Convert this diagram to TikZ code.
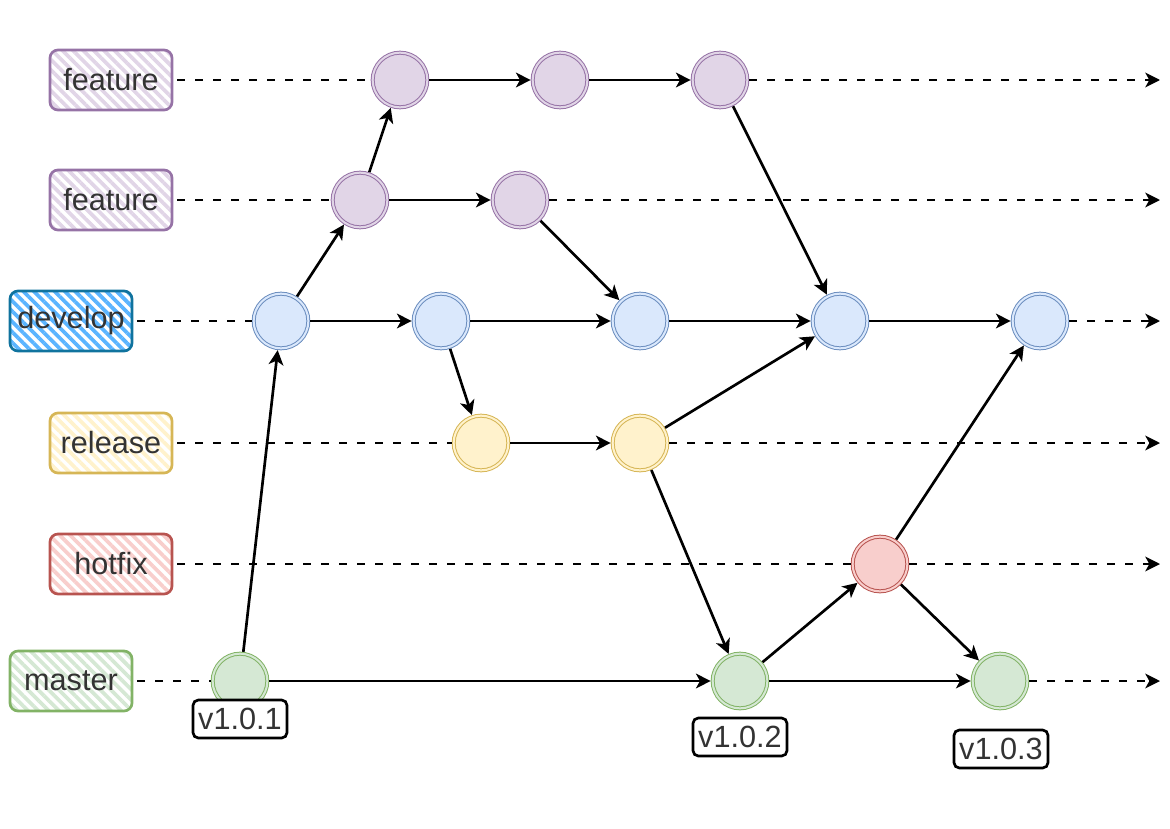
\documentclass[tikz,border=0pt]{standalone}
\usepackage{fontspec}
\setmainfont{Liberation Sans}
\usetikzlibrary{arrows.meta,patterns.meta}

% branch palette: fill / stroke
\definecolor{purpF}{HTML}{E1D5E7}\definecolor{purpS}{HTML}{9673A6}
\definecolor{blueF}{HTML}{DAE8FC}\definecolor{blueS}{HTML}{6C8EBF}
\definecolor{devH}{HTML}{5AB4FF}\definecolor{devS}{HTML}{10739E}
\definecolor{yelF}{HTML}{FFF2CC}\definecolor{yelS}{HTML}{D6B656}
\definecolor{redF}{HTML}{F8CECC}\definecolor{redS}{HTML}{B85450}
\definecolor{grnF}{HTML}{D5E8D4}\definecolor{grnS}{HTML}{82B366}
\definecolor{txt}{HTML}{333333}

\begin{document}
\begin{tikzpicture}[x=0.75pt,y=-0.75pt,
  bigfont/.style={font=\fontsize{23}{27}\selectfont},
  branch/.style={bigfont, text=txt, rounded corners=6pt, minimum width=91.5pt,
    minimum height=45pt, inner sep=0pt, line width=2pt, outer sep=4pt,
    draw=#1},
  hatch/.style={pattern={Lines[angle=-45,distance=5.5pt,line width=2.8pt]},
    pattern color=#1},
  commit/.style 2 args={circle, minimum size=41pt, inner sep=0pt,
    line width=0.75pt, double distance=1.5pt, outer sep=1.5pt,
    draw=#2, double=#1, fill=#1},
  tag/.style={bigfont, text=txt, draw=black, fill=white, rounded corners=4pt,
    minimum width=70.5pt, minimum height=28.5pt, inner sep=0pt, line width=2pt},
  flow/.style={line width=2pt, -{Stealth[length=11pt,width=11pt,inset=3pt]}},
  track/.style={line width=2pt, dash pattern=on 6pt off 7.5pt},
  trackend/.style={track, -{Stealth[length=11pt,width=11pt,inset=3pt]}}
]
\useasboundingbox (0,0) rectangle (1170,828);

% branch labels
\node[branch=purpS, hatch=purpF] (lfa) at (111,80)  {feature};
\node[branch=purpS, hatch=purpF] (lfb) at (111,200) {feature};
\node[branch=devS,  hatch=devH]  (ldv) at (71,321)  {develop};
\node[branch=yelS,  hatch=yelF]  (lrl) at (111,443) {release};
\node[branch=redS,  hatch=redF]  (lhf) at (111,564) {hotfix};
\node[branch=grnS,  hatch=grnF]  (lms) at (71,681)  {master};

% commits
\node[commit={purpF}{purpS}] (fa1) at (400,80) {};
\node[commit={purpF}{purpS}] (fa2) at (560,80) {};
\node[commit={purpF}{purpS}] (fa3) at (720,80) {};
\node[commit={purpF}{purpS}] (fb1) at (360,200) {};
\node[commit={purpF}{purpS}] (fb2) at (520,200) {};
\node[commit={blueF}{blueS}] (dv1) at (281,321) {};
\node[commit={blueF}{blueS}] (dv2) at (441,321) {};
\node[commit={blueF}{blueS}] (dv3) at (640,321) {};
\node[commit={blueF}{blueS}] (dv4) at (840,321) {};
\node[commit={blueF}{blueS}] (dv5) at (1040,321) {};
\node[commit={yelF}{yelS}]   (rl1) at (481,443) {};
\node[commit={yelF}{yelS}]   (rl2) at (640,443) {};
\node[commit={redF}{redS}]   (hf1) at (880,564) {};
\node[commit={grnF}{grnS}]   (ms1) at (240,681) {};
\node[commit={grnF}{grnS}]   (ms2) at (740,681) {};
\node[commit={grnF}{grnS}]   (ms3) at (1000,681) {};

% version tags
\node[tag] (t1) at (240,719)  {v1.0.1};
\node[tag] (t2) at (740,737)  {v1.0.2};
\node[tag] (t3) at (1001,749) {v1.0.3};

% free ends of the branch tracks
\coordinate (efa) at (1160,80);
\coordinate (efb) at (1160,200);
\coordinate (edv) at (1160,321);
\coordinate (erl) at (1160,443);
\coordinate (ehf) at (1160,564);
\coordinate (ems) at (1160,681);

% dashed branch tracks
\draw[track] (lfa) -- (fa1);  \draw[trackend] (fa3) -- (efa);
\draw[track] (lfb) -- (fb1);  \draw[trackend] (fb2) -- (efb);
\draw[track] (ldv) -- (dv1);  \draw[trackend] (dv5) -- (edv);
\draw[track] (lrl) -- (rl1);  \draw[trackend] (rl2) -- (erl);
\draw[track] (lhf) -- (hf1);  \draw[trackend] (hf1) -- (ehf);
\draw[track] (lms) -- (ms1);  \draw[trackend] (ms3) -- (ems);

% commit flow
\draw[flow] (ms1) -- (dv1);
\draw[flow] (dv1) -- (fb1);
\draw[flow] (fb1) -- (fa1);
\draw[flow] (fa1) -- (fa2);
\draw[flow] (fa2) -- (fa3);
\draw[flow] (fb1) -- (fb2);
\draw[flow] (dv1) -- (dv2);
\draw[flow] (dv2) -- (dv3);
\draw[flow] (dv3) -- (dv4);
\draw[flow] (dv4) -- (dv5);
\draw[flow] (fb2) -- (dv3);
\draw[flow] (fa3) -- (dv4);
\draw[flow] (dv2) -- (rl1);
\draw[flow] (rl1) -- (rl2);
\draw[flow] (rl2) -- (dv4);
\draw[flow] (rl2) -- (ms2);
\draw[flow] (ms1) -- (ms2);
\draw[flow] (ms2) -- (hf1);
\draw[flow] (ms2) -- (ms3);
\draw[flow] (hf1) -- (dv5);
\draw[flow] (hf1) -- (ms3);
\end{tikzpicture}
\end{document}
